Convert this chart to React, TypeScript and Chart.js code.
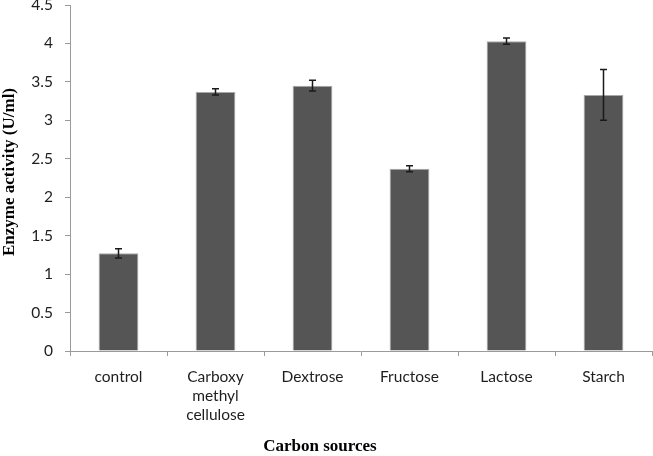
import React, { useEffect, useRef } from "react";
import { Chart, registerables } from "chart.js";

Chart.register(...registerables);

const categories: (string | string[])[] = [
  "control",
  ["Carboxy", "methyl", "cellulose"],
  "Dextrose",
  "Fructose",
  "Lactose",
  "Starch",
];
const activity = [1.27, 3.37, 3.45, 2.37, 4.03, 3.33];
const errors = [0.06, 0.04, 0.07, 0.04, 0.04, 0.33];
const yTicks = [0, 0.5, 1, 1.5, 2, 2.5, 3, 3.5, 4, 4.5];
const yTitle = "Enzyme activity (U/ml)";
const xTitle = "Carbon sources";

const errorBarPlugin = {
  id: "errorBars",
  afterDatasetsDraw(chart: any) {
    const ctx = chart.ctx;
    const meta = chart.getDatasetMeta(0);
    const y = chart.scales.y;
    ctx.save();
    ctx.strokeStyle = "#1a1a1a";
    ctx.lineWidth = 1.5;
    meta.data.forEach((bar: any, i: number) => {
      const x = bar.x;
      const top = y.getPixelForValue(activity[i] + errors[i]);
      const bot = y.getPixelForValue(activity[i] - errors[i]);
      ctx.beginPath();
      ctx.moveTo(x, top);
      ctx.lineTo(x, bot);
      ctx.moveTo(x - 3.5, top);
      ctx.lineTo(x + 3.5, top);
      ctx.moveTo(x - 3.5, bot);
      ctx.lineTo(x + 3.5, bot);
      ctx.stroke();
    });
    ctx.restore();
  },
};

const titlesPlugin = {
  id: "axisTitles",
  afterDraw(chart: any) {
    const ctx = chart.ctx;
    ctx.save();
    ctx.fillStyle = "#000";
    ctx.font = "bold 17px 'Liberation Serif', serif";
    ctx.textAlign = "center";
    ctx.textBaseline = "middle";
    ctx.fillText(xTitle, chart.width * 0.49, chart.height - 9);
    ctx.translate(10, 172);
    ctx.rotate(-Math.PI / 2);
    ctx.fillText(yTitle, 0, 0);
    ctx.restore();
  },
};

export default function App() {
  const ref = useRef<HTMLCanvasElement>(null);
  useEffect(() => {
    document.body.style.margin = "0";
    const chart = new Chart(ref.current!, {
      type: "bar",
      data: {
        labels: categories,
        datasets: [
          {
            data: activity,
            backgroundColor: "#555555",
            borderColor: "#a8a8a8",
            borderWidth: 1,
            barPercentage: 0.41,
            categoryPercentage: 1,
          },
        ],
      },
      options: {
        responsive: false,
        animation: false,
        maintainAspectRatio: false,
        layout: { padding: { left: 0, right: 1, top: 5, bottom: 0 } },
        plugins: { legend: { display: false }, tooltip: { enabled: false } },
        scales: {
          x: {
            offset: true,
            grid: {
              offset: true,
              drawOnChartArea: false,
              drawTicks: true,
              tickLength: 5,
              color: "#9a9a9a",
            },
            border: { display: true, color: "#9a9a9a" },
            ticks: {
              color: "#1e1e1e",
              font: { family: "Lato", size: 15.5, lineHeight: 1.23 },
              padding: 11,
              maxRotation: 0,
              autoSkip: false,
            },
            afterFit(scale: any) {
              scale.height = 105;
              scale.paddingLeft = 0;
              scale.paddingRight = 0;
            },
          },
          y: {
            min: 0,
            max: 4.5,
            afterBuildTicks(scale: any) {
              scale.ticks = yTicks.map((v) => ({ value: v }));
            },
            grid: {
              drawOnChartArea: false,
              drawTicks: true,
              tickLength: 5,
              color: "#9a9a9a",
            },
            border: { display: true, color: "#9a9a9a" },
            ticks: {
              color: "#1e1e1e",
              font: { family: "Lato", size: 15.5 },
              padding: 12,
              callback: (v: any) => String(Number(v)),
            },
            afterFit(scale: any) {
              scale.width = 70;
              scale.paddingTop = 0;
              scale.paddingBottom = 0;
            },
          },
        },
      },
      plugins: [errorBarPlugin, titlesPlugin],
    });
    return () => chart.destroy();
  }, []);
  return (
    <div style={{ width: 653, height: 456 }}>
      <canvas ref={ref} width={653} height={456} style={{ display: "block" }} />
    </div>
  );
}
